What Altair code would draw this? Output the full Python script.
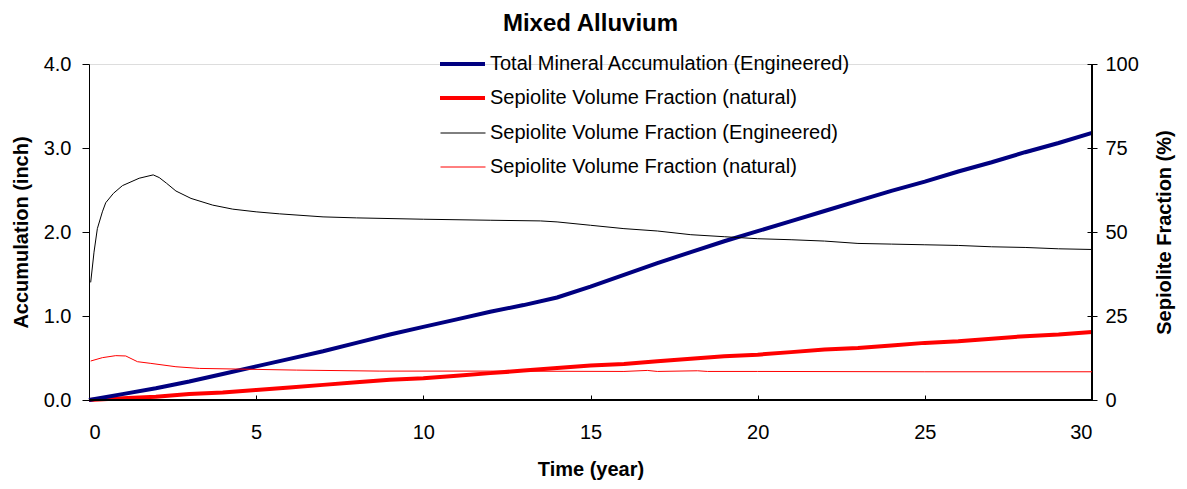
import altair as alt
import pandas as pd

# ---- data ----
years = list(range(31))
total_mineral_eng = [0.00, 0.07, 0.14, 0.22, 0.31, 0.40, 0.49, 0.58, 0.68, 0.78,
                     0.87, 0.96, 1.05, 1.13, 1.22, 1.35, 1.49, 1.63, 1.76, 1.89,
                     2.01, 2.13, 2.25, 2.37, 2.49, 2.60, 2.72, 2.83, 2.95, 3.06, 3.18]
sepiolite_nat_thick = [0.00, 0.02, 0.04, 0.07, 0.09, 0.12, 0.15, 0.18, 0.21, 0.24,
                       0.26, 0.29, 0.32, 0.35, 0.38, 0.41, 0.43, 0.46, 0.49, 0.52,
                       0.54, 0.57, 0.60, 0.62, 0.65, 0.68, 0.70, 0.73, 0.76, 0.78, 0.81]

years_frac_eng = [0.05, 0.15, 0.25, 0.4, 0.5, 0.73, 1.0, 1.5, 1.92, 2.1, 2.32, 2.6,
                  3.05, 3.7, 4.3, 5.0, 5.7, 7.0, 8.0, 10.0, 12.0, 13.5, 14.0, 15.0,
                  16.0, 17.0, 18.0, 19.0, 20.0, 21.0, 22.0, 23.0, 24.0, 25.0, 26.0,
                  27.0, 28.0, 29.0, 30.0]
frac_eng = [35.0, 44.0, 51.0, 56.0, 58.7, 61.5, 63.8, 66.0, 67.0, 66.2, 64.5, 62.2,
            60.0, 58.0, 56.8, 56.0, 55.4, 54.5, 54.2, 53.8, 53.5, 53.3, 53.0, 52.0,
            51.0, 50.3, 49.2, 48.6, 48.0, 47.7, 47.3, 46.6, 46.4, 46.2, 46.0,
            45.6, 45.4, 45.0, 44.8]

years_frac_nat = [0.05, 0.4, 0.8, 1.1, 1.45, 1.85, 2.6, 3.3, 4.5, 6.2, 8.7, 12.0,
                  16.0, 16.7, 17.0, 18.2, 18.5, 20.0, 25.0, 30.0]
frac_nat = [11.6, 12.6, 13.2, 13.1, 11.4, 10.9, 9.9, 9.4, 9.2, 8.9, 8.6, 8.6,
            8.5, 8.8, 8.5, 8.7, 8.5, 8.5, 8.4, 8.4]

thick_keys = ["tme", "svn_thick"]
thick_labels = ["Total Mineral Accumulation (Engineered)",
                "Sepiolite Volume Fraction (natural)"]
thick_colors = ["#000080", "#FF0000"]

thin_keys = ["sve", "svn_thin"]
thin_labels = ["Sepiolite Volume Fraction (Engineered)",
               "Sepiolite Volume Fraction (natural)"]
thin_colors = ["#000000", "#FF0000"]

FONT = "Liberation Sans"

df_tme = pd.DataFrame({"year": years, "value": total_mineral_eng, "series": "tme"})
df_svn = pd.DataFrame({"year": years, "value": sepiolite_nat_thick, "series": "svn_thick"})
df_sve = pd.DataFrame({"year": years_frac_eng, "value": frac_eng, "series": "sve"})
df_svnt = pd.DataFrame({"year": years_frac_nat, "value": frac_nat, "series": "svn_thin"})


def label_expr(keys, labels):
    return " : ".join([f"datum.value == '{k}' ? '{l}'" for k, l in zip(keys, labels)]) + " : ''"


def make_legend(keys, labels, x, y, sw, lo):
    return alt.Legend(
        title=None, orient="none", legendX=x, legendY=y,
        symbolType="stroke", symbolSize=2025, symbolStrokeWidth=sw,
        clipHeight=34, rowPadding=0,
        labelOffset=lo, labelFontSize=20, labelFont=FONT, labelColor="#000000",
        labelLimit=600, labelExpr=label_expr(keys, labels),
    )


color_thick = alt.Color(
    "series:N",
    scale=alt.Scale(domain=thick_keys, range=thick_colors),
    legend=make_legend(thick_keys, thick_labels, 349, -17, 4, 3),
)
stroke_thin = alt.Stroke(
    "series:N",
    scale=alt.Scale(domain=thin_keys, range=thin_colors),
    legend=make_legend(thin_keys, thin_labels, 351, 52, 1, 4),
)

x_scale = alt.Scale(domain=[0, 30], nice=False)
x_enc = alt.X(
    "year:Q",
    scale=x_scale,
    axis=alt.Axis(
        title="Time (year)", values=[0, 5, 10, 15, 20, 25, 30], grid=False,
        offset=-5, domain=False, tickSize=5, tickColor="#000000",
        labelPadding=22, labelFontSize=20, labelFont=FONT, labelColor="#000000",
        titleFontSize=20, titleFont=FONT, titleFontWeight="bold", titlePadding=17,
        titleColor="#000000",
    ),
)

left_axis = alt.Axis(
    title="Accumulation (inch)", values=[0, 1, 2, 3, 4], format=".1f", grid=False,
    domainColor="#000000", tickColor="#000000", tickSize=7, labelPadding=11,
    labelFontSize=20, labelFont=FONT, labelColor="#000000",
    titleFontSize=20, titleFont=FONT, titleFontWeight="bold", titlePadding=12,
    titleColor="#000000",
)
right_axis = alt.Axis(
    title="Sepiolite Fraction (%)", orient="right", values=[0, 25, 50, 75, 100],
    grid=False, domain=False, offset=-5, tickColor="#000000", tickSize=10,
    labelPadding=8, labelFontSize=20, labelFont=FONT, labelColor="#000000",
    titleFontSize=20, titleFont=FONT, titleFontWeight="bold", titlePadding=36,
    titleAngle=270, titleColor="#000000",
)

y_left = alt.Y("value:Q", scale=alt.Scale(domain=[0, 4], nice=False), axis=left_axis)
y_right = alt.Y("value:Q", scale=alt.Scale(domain=[0, 100], nice=False), axis=right_axis)

baseline = alt.Chart(df_tme).mark_rule(color="#000000", strokeWidth=1).encode(
    y=alt.datum(0, scale=alt.Scale(domain=[0, 4], nice=False), axis=left_axis)
)
right_edge = alt.Chart(df_tme).mark_rule(color="#000000", strokeWidth=1).encode(
    x=alt.datum(30, scale=x_scale)
)
line_tme = alt.Chart(df_tme).mark_line(strokeWidth=4).encode(x=x_enc, y=y_left, color=color_thick)
line_svn = alt.Chart(df_svn).mark_line(strokeWidth=4).encode(x=x_enc, y=y_left, color=color_thick)
line_sve = alt.Chart(df_sve).mark_line(strokeWidth=1).encode(x=x_enc, y=y_right, stroke=stroke_thin)
line_svnt = alt.Chart(df_svnt).mark_line(strokeWidth=1).encode(x=x_enc, y=y_right, stroke=stroke_thin)

left = alt.layer(line_svn, line_tme, baseline, right_edge)
right = alt.layer(line_sve, line_svnt)

chart = (
    alt.layer(left, right)
    .resolve_scale(y="independent")
    .properties(
        width=1003, height=336,
        title=alt.TitleParams("Mixed Alluvium", fontSize=24, font=FONT, fontWeight="bold",
                              anchor="middle", frame="group", offset=11, color="#000000"),
        autosize=alt.AutoSizeParams(type="none"),
        padding={"left": 81, "top": 56, "right": 87, "bottom": 80},
    )
    .configure_view(stroke=None)
    .configure(background="white")
)

chart.save("out.html", embed_options={"renderer": "svg", "actions": False})
